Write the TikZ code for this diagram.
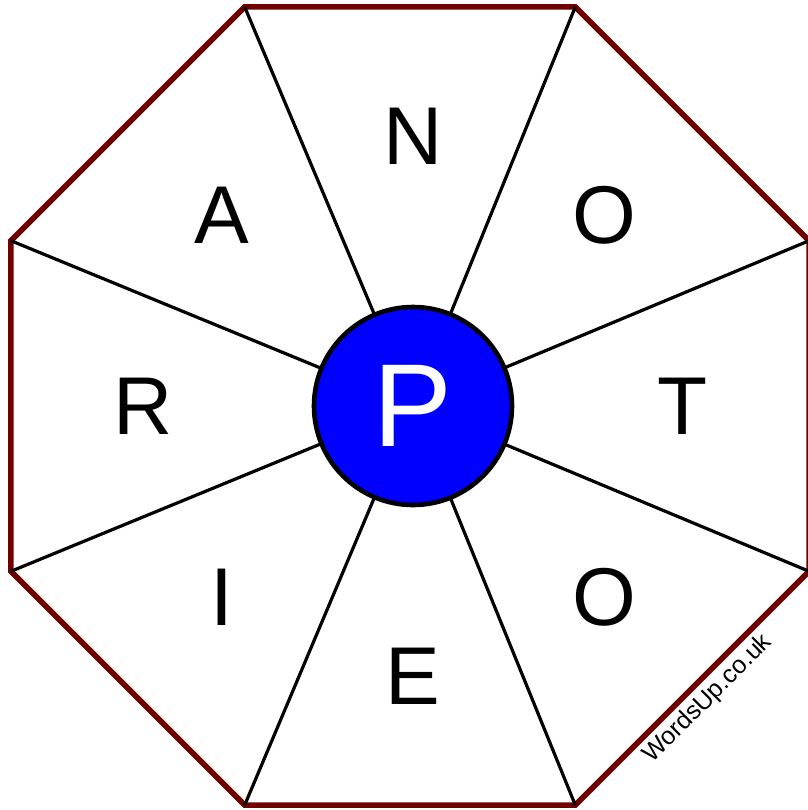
\documentclass[tikz,border=0pt]{standalone}
\usepackage{fontspec}
\setmainfont{Liberation Sans}
\definecolor{rim}{RGB}{110,0,0}
\begin{document}
\begin{tikzpicture}[
  x=0.5pt,
  y=-0.5pt,
  spoke/.style={draw=black, line width=1.6pt},
  rimline/.style={draw=rim, line width=2.8pt, line join=miter},
  hub/.style={circle, draw=black, line width=2.3pt, fill=blue, minimum size=99pt, inner sep=0pt, text=white, font=\fontsize{59}{59}\selectfont},
  letter/.style={font=\fontsize{41}{41}\selectfont, inner sep=0pt},
  sitename/.style={font=\fontsize{12.5}{12.5}\selectfont, rotate=45, inner sep=0pt}
]
\useasboundingbox (0,0) rectangle (808,810);

\coordinate (mid) at (413,406);
\foreach \k in {0,...,7} {
  \coordinate (v\k) at ([shift={(410,406)}]{22.5+45*\k}:432);
}

\draw[rimline] (v0) -- (v1) -- (v2) -- (v3) -- (v4) -- (v5) -- (v6) -- (v7) -- cycle;
\foreach \k in {0,...,7} {
  \draw[spoke] (mid) -- (v\k);
}

\node[hub] (centre) at (mid) {P};

\foreach \t/\a [count=\i] in {N/-90, O/-45, T/0, O/45, E/90, I/135, R/180, A/225} {
  \node[letter] (l\i) at ([shift={(413,406)}]\a:270) {\t};
}

\node[sitename] (site) at (708,699) {WordsUp.co.uk};
\end{tikzpicture}
\end{document}
